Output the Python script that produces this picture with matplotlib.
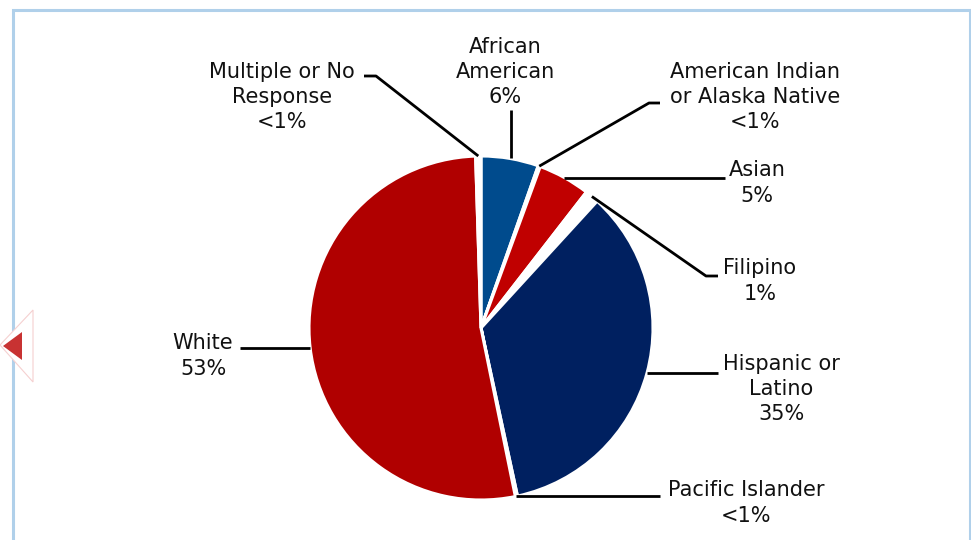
import numpy as np
import matplotlib.pyplot as plt
from matplotlib.patches import Polygon

# share of students by group (%), clockwise from 12 o'clock
groups = ["African\nAmerican\n6%", "American Indian\nor Alaska Native\n<1%", "Asian\n5%",
          "Filipino\n1%", "Hispanic or\nLatino\n35%", "Pacific Islander\n<1%",
          "White\n53%", "Multiple or No\nResponse\n<1%"]
shares = [5.4, 0.2, 4.9, 1.3, 34.8, 0.2, 52.7, 0.5]
colors = ["#004B8D", "#FFFFFF", "#C00000", "#FFFFFF", "#002060", "#FFFFFF", "#B00000", "#FFFFFF"]

# label layout in pixels (y measured from top): text centre, elbow, line end
label_pos = [(505, 72), (755, 97), (757, 183), (760, 281),
             (781, 389), (746, 503), (203, 356), (282, 97)]
elbows = [None, (649, 103), None, (706, 276), None, None, None, (376, 76)]
line_end = [(511, 110), (660, 103), (725, None), (718, 276),
            (718, None), (660, None), (240, None), (364, 76)]

W, H = 971, 540
cx, cy, R = 481, 328, 172

fig = plt.figure(figsize=(9.71, 5.4), dpi=100)
ax = fig.add_axes([0, 0, 1, 1])

Y = lambda y: H - y

wedges, _ = ax.pie(shares, colors=colors, startangle=90, counterclock=False,
                   center=(cx, Y(cy)), radius=R, frame=True,
                   wedgeprops=dict(edgecolor="white", linewidth=2.2))
ax.set_xlim(0, W)
ax.set_ylim(0, H)
ax.set_aspect('equal')
ax.axis('off')

for i, w in enumerate(wedges):
    mid = np.deg2rad((w.theta1 + w.theta2) / 2)
    ax_x = cx + R * np.cos(mid)
    ax_y = Y(cy) + R * np.sin(mid)
    ex, ey = line_end[i]
    if ey is None:
        pts = [(ax_x, ax_y), (ex, ax_y)]
    elif elbows[i] is None:
        pts = [(ex, ax_y), (ex, Y(ey))]
    else:
        bx, by = elbows[i]
        pts = [(ax_x, ax_y), (bx, Y(by)), (ex, Y(ey))]
    xs, ys = zip(*pts)
    ax.plot(xs, ys, color="black", lw=2, solid_capstyle='butt', zorder=3)
    tx, ty = label_pos[i]
    ax.text(tx, Y(ty), groups[i], ha='center', va='center', fontsize=15,
            linespacing=1.32, color="#111111", family="DejaVu Sans")

# slide frame and navigation arrow
frame_col = "#B0D0EA"
ax.plot([13, 13, 970, 970], [0, Y(10), Y(10), 0], color=frame_col, lw=2.2,
        solid_joinstyle='miter', clip_on=False)
ax.add_patch(Polygon([(0, Y(345)), (33, Y(310)), (33, Y(382))], closed=True,
                     facecolor="white", edgecolor="#F5D0D0", lw=0.8, zorder=4))
ax.add_patch(Polygon([(3, Y(346)), (22, Y(332)), (22, Y(360))], closed=True,
                     facecolor="#C83232", edgecolor="none", zorder=5))

fig.savefig("out.png", dpi=100)
